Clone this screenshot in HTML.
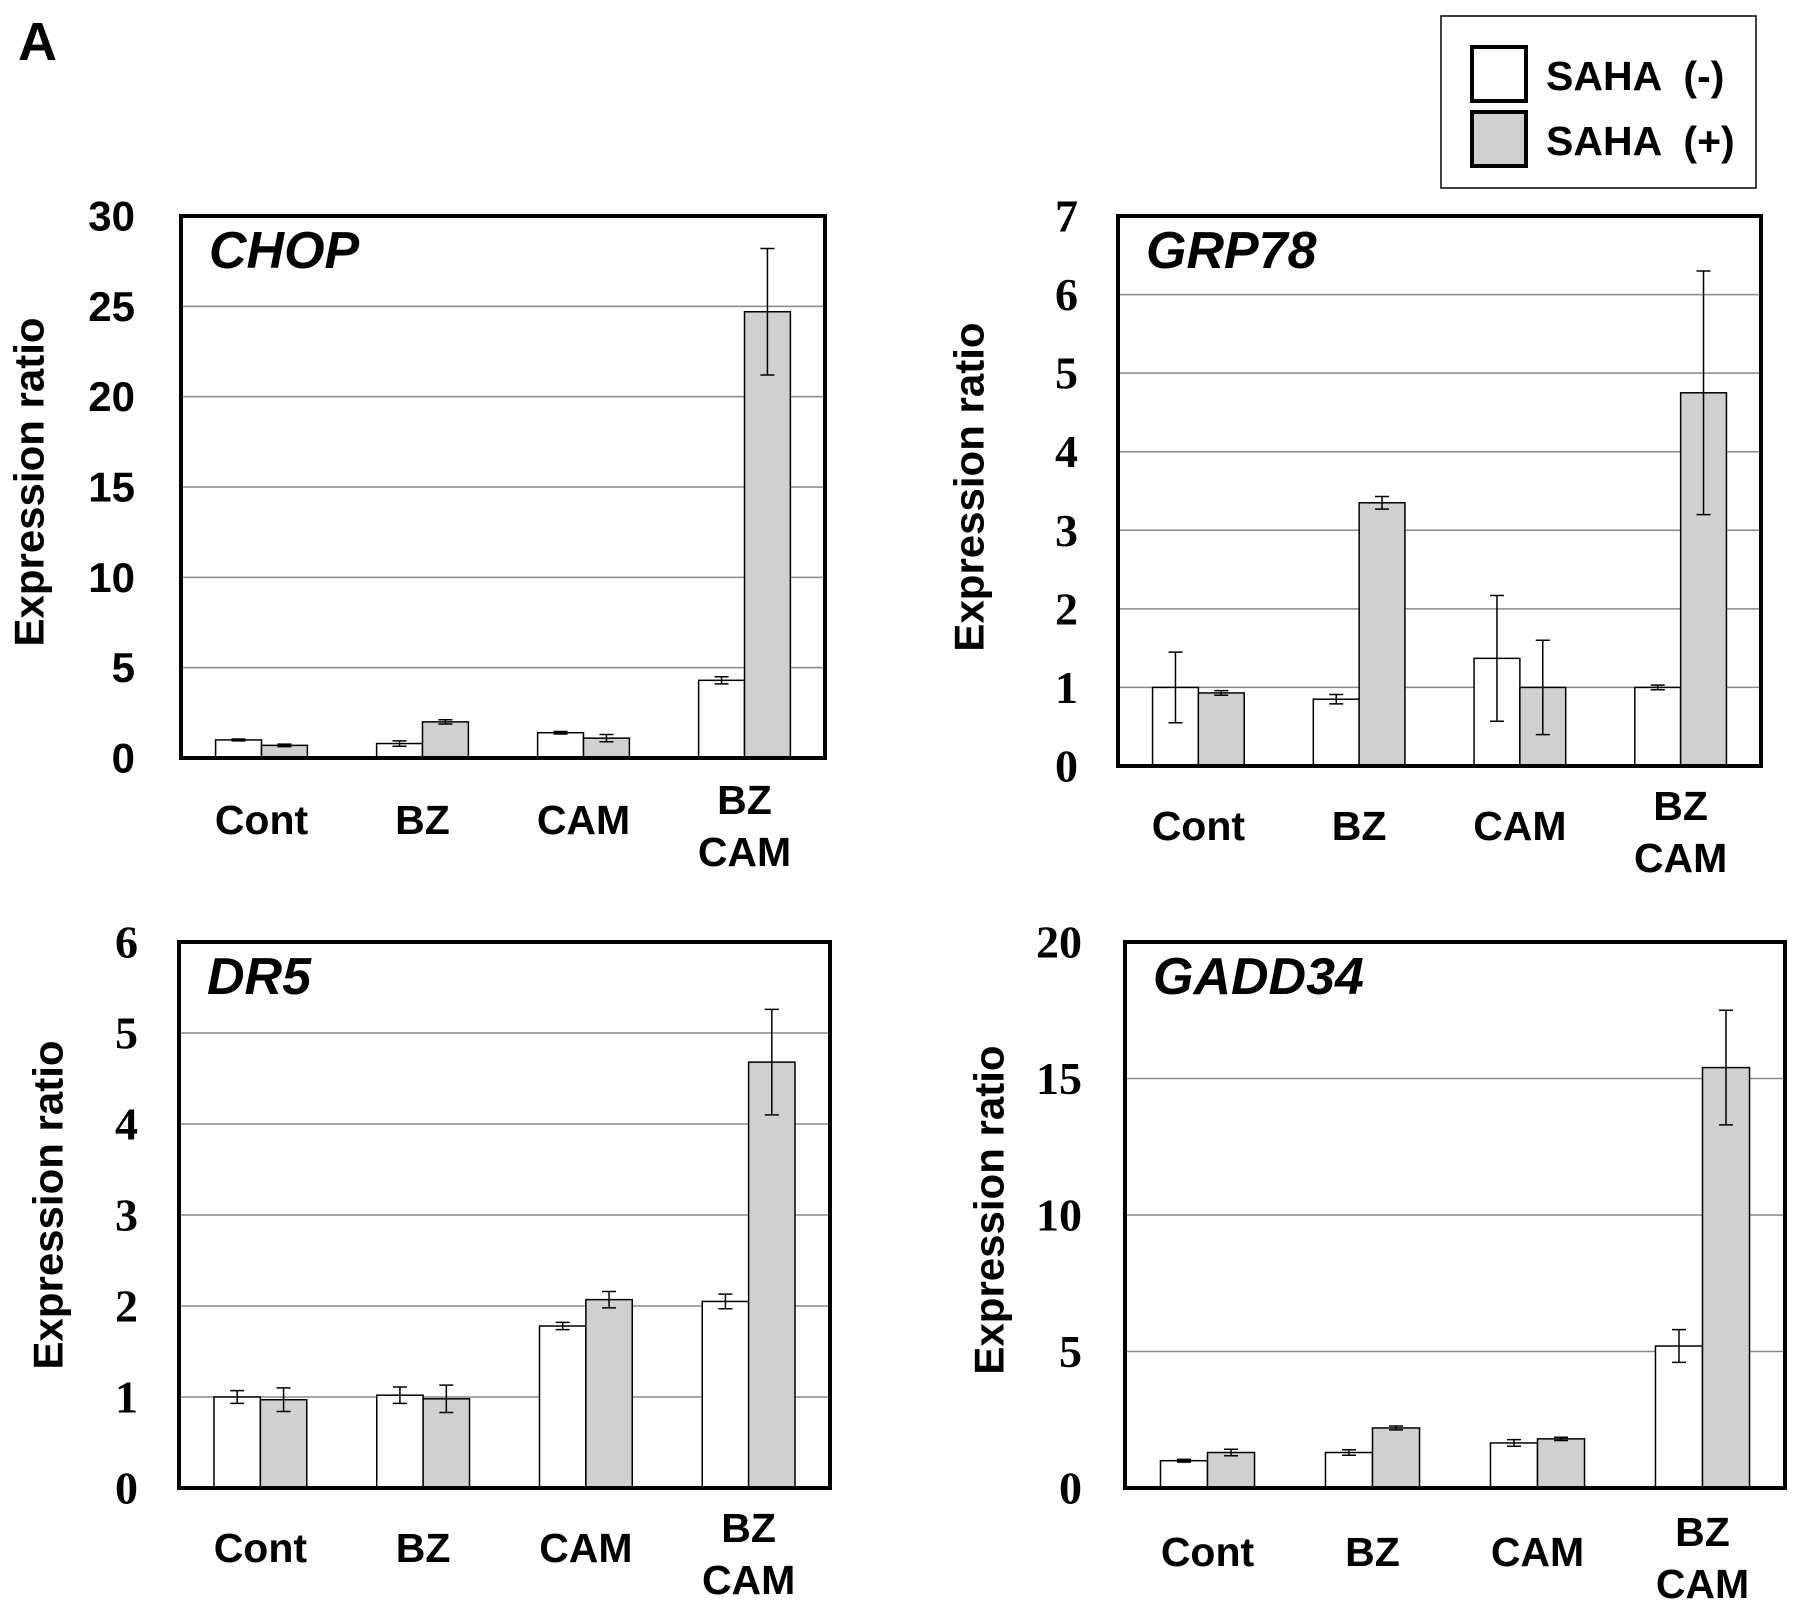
<!DOCTYPE html>
<html><head><meta charset="utf-8"><style>
html,body{margin:0;padding:0;background:#fff;}
svg{display:block;}
text{font-family:"Liberation Sans",sans-serif;font-weight:bold;fill:#000;}
.serif{font-family:"Liberation Serif",serif;}
</style></head><body>
<svg id="fig" width="1795" height="1607" viewBox="0 0 1795 1607">
<text x="18" y="60" font-size="54">A</text>
<g>
<rect x="1441" y="16" width="315" height="172" fill="#fff" stroke="#000" stroke-width="1.5"/>
<rect x="1472" y="47" width="54" height="54" fill="#fff" stroke="#000" stroke-width="4"/>
<rect x="1472" y="112" width="54" height="54" fill="#d0d0d0" stroke="#000" stroke-width="4"/>
<text x="1546" y="90" font-size="41" xml:space="preserve">SAHA  (-)</text>
<text x="1546" y="155" font-size="41" xml:space="preserve">SAHA  (+)</text>
</g>
</svg>
<script>
const categories = ["Cont","BZ","CAM","BZ|CAM"];
const chopMinus = [1.0,0.8,1.4,4.3];
const chopMinusErr = [0.05,0.15,0.07,0.2];
const chopPlus = [0.7,2.0,1.1,24.7];
const chopPlusErr = [0.07,0.12,0.2,3.5];
const chopTicks = [0,5,10,15,20,25,30];
const grpMinus = [1.0,0.85,1.37,1.0];
const grpMinusErr = [0.45,0.06,0.8,0.03];
const grpPlus = [0.93,3.35,1.0,4.75];
const grpPlusErr = [0.03,0.08,0.6,1.55];
const grpTicks = [0,1,2,3,4,5,6,7];
const dr5Minus = [1.0,1.02,1.78,2.05];
const dr5MinusErr = [0.07,0.09,0.04,0.08];
const dr5Plus = [0.97,0.98,2.07,4.68];
const dr5PlusErr = [0.13,0.15,0.09,0.58];
const dr5Ticks = [0,1,2,3,4,5,6];
const gaddMinus = [1.0,1.3,1.65,5.2];
const gaddMinusErr = [0.05,0.1,0.12,0.6];
const gaddPlus = [1.3,2.2,1.8,15.4];
const gaddPlusErr = [0.12,0.07,0.06,2.1];
const gaddTicks = [0,5,10,15,20];

const NS="http://www.w3.org/2000/svg";
const svg=document.getElementById('fig');
function mk(tag,attrs,parent){const e=document.createElementNS(NS,tag);for(const k in attrs)e.setAttribute(k,attrs[k]);(parent||svg).appendChild(e);return e;}

function panel(cfg){
  const g=mk('g',{});
  
  
  const {L,R,T,B}=cfg, max=cfg.ticks[cfg.ticks.length-1];
  const y=v=>B-(v/max)*(B-T);
  const gw=(R-L)/categories.length, bw=gw*0.285;
  const x=i=>L+(i+0.5)*gw;
  cfg.ticks.forEach((t,k)=>{
    if(k>0 && k<cfg.ticks.length-1){
      const gl=mk('line',{x1:L,x2:R,y1:y(t),y2:y(t),stroke:'#888','stroke-width':1.5},g);
      
      
    }
    const tl=mk('text',{x:cfg.tickX,y:y(t),'text-anchor':'end','dominant-baseline':'central','font-size':cfg.serif?46:42,class:cfg.serif?'serif':''},g);
    tl.textContent=t;
    
    
  });
  function bar(i,v,e,fill,off,name){
    const bx=x(i)+off;
    const r=mk('rect',{x:bx,y:y(v),width:bw,height:B-y(v),fill:fill,stroke:'#000','stroke-width':1.5},g);
    
    
    const cx=bx+bw/2;
    const eb=mk('path',{d:`M${cx} ${y(v+e)}V${y(v-e)}M${cx-7} ${y(v+e)}h14M${cx-7} ${y(v-e)}h14`,stroke:'#000','stroke-width':1.5,fill:'none'},g);
    
    
  }
  categories.forEach((c,i)=>{
    bar(i,cfg.minus[i],cfg.minusErr[i],'#fff',-bw,'minus');
    bar(i,cfg.plus[i],cfg.plusErr[i],'#d0d0d0',0,'plus');
    const parts=c.split('|');
    parts.forEach((p,j)=>{
      const yy=parts.length>1?cfg.labY-20+j*52:cfg.labY;
      const t=mk('text',{x:x(i),y:yy,'text-anchor':'middle','dominant-baseline':'central','font-size':41},g);
      t.textContent=p;
      
      
    });
  });
  const fr=mk('rect',{x:L,y:T,width:R-L,height:B-T,fill:'none',stroke:'#000','stroke-width':4},g);
  
  
  const gt=mk('text',{x:L+28,y:T+52,'font-size':52,'font-style':'italic'},g);
  gt.textContent=cfg.gene;
  
  
  const yt=mk('text',{x:cfg.titleX,y:cfg.titleY,'text-anchor':'middle','dominant-baseline':'central','font-size':42,transform:`rotate(-90 ${cfg.titleX} ${cfg.titleY})`},g);
  yt.textContent='Expression  ratio';
  yt.setAttribute('xml:space','preserve');
  
  
}
panel({id:'chop',gene:'CHOP',L:181,R:825,T:216,B:758,ticks:chopTicks,minus:chopMinus,minusErr:chopMinusErr,plus:chopPlus,plusErr:chopPlusErr,tickX:135,titleX:29,titleY:482,labY:820,serif:false});
panel({id:'grp78',gene:'GRP78',L:1118,R:1761,T:216,B:766,ticks:grpTicks,minus:grpMinus,minusErr:grpMinusErr,plus:grpPlus,plusErr:grpPlusErr,tickX:1078,titleX:969,titleY:487,labY:826,serif:true});
panel({id:'dr5',gene:'DR5',L:179,R:830,T:942,B:1488,ticks:dr5Ticks,minus:dr5Minus,minusErr:dr5MinusErr,plus:dr5Plus,plusErr:dr5PlusErr,tickX:138,titleX:48,titleY:1205,labY:1548,serif:true});
panel({id:'gadd34',gene:'GADD34',L:1125,R:1785,T:942,B:1488,ticks:gaddTicks,minus:gaddMinus,minusErr:gaddMinusErr,plus:gaddPlus,plusErr:gaddPlusErr,tickX:1082,titleX:989,titleY:1210,labY:1552,serif:true});
</script>
</body></html>
